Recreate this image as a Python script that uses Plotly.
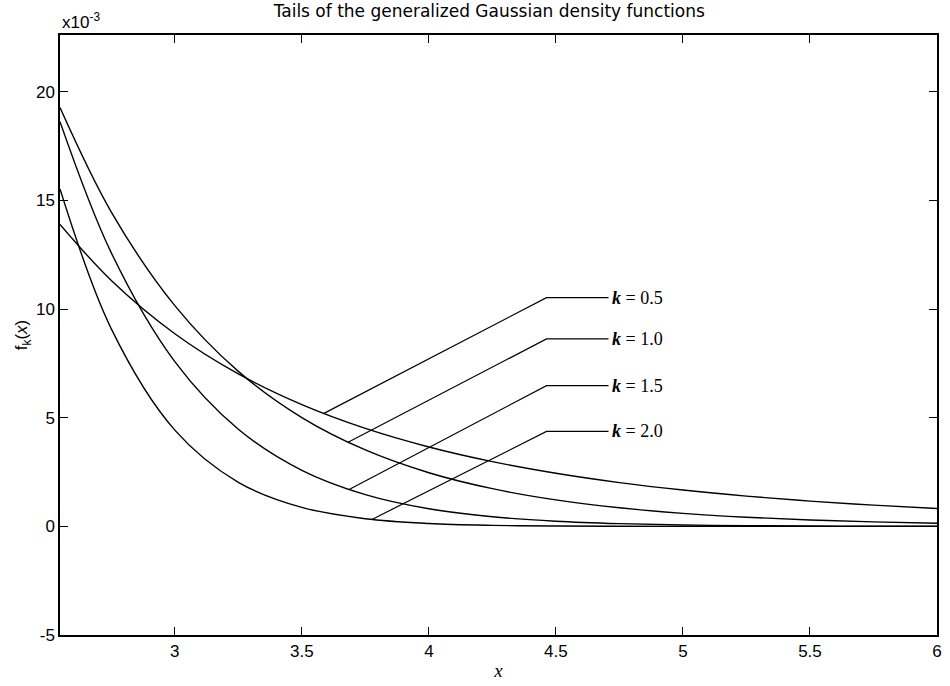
import plotly.graph_objects as go

# Sample abscissae for the density tails
x_vals = [2.548, 2.75, 3.0, 3.25, 3.5, 3.75, 4.0, 4.25, 4.5, 4.75,
          5.0, 5.25, 5.5, 5.75, 6.0]

# f_k(x) in units of 1e-3 for each shape parameter k
f_k05 = [13.90, 11.32, 8.868, 7.018, 5.603, 4.508, 3.654, 2.980, 2.445, 2.017,
         1.673, 1.393, 1.165, 0.979, 0.825]
f_k10 = [19.28, 14.47, 10.16, 7.135, 5.010, 3.518, 2.470, 1.735, 1.218, 0.855,
         0.601, 0.422, 0.296, 0.208, 0.146]
f_k15 = [18.63, 12.59, 7.584, 4.473, 2.583, 1.463, 0.812, 0.443, 0.237, 0.125,
         0.0645, 0.0328, 0.0164, 0.0081, 0.0039]
f_k20 = [15.53, 9.094, 4.432, 2.029, 0.873, 0.353, 0.134, 0.0477, 0.016, 0.005,
         0.0015, 0.0004, 0.0001, 0.0, 0.0]

series = [("k = 0.5", f_k05), ("k = 1.0", f_k10),
          ("k = 1.5", f_k15), ("k = 2.0", f_k20)]

# Callout leaders: point on the curve -> elbow -> label
label_names = ["0.5", "1.0", "1.5", "2.0"]
leader_x0 = [3.585, 3.682, 3.686, 3.776]
leader_y0 = [5.19, 3.87, 1.70, 0.32]
leader_y1 = [10.53, 8.63, 6.48, 4.37]
elbow_x = 4.463
label_x = 4.707

x_ticks = [3, 3.5, 4, 4.5, 5, 5.5, 6]
y_ticks = [-5, 0, 5, 10, 15, 20]

SANS = "Liberation Sans, Arial, sans-serif"
SERIF = "Liberation Serif, Times New Roman, serif"

fig = go.Figure()

for name, ys in series:
    fig.add_trace(go.Scatter(
        x=x_vals, y=ys, mode="lines", name=name,
        line=dict(color="black", width=1.4, shape="spline", smoothing=1.0),
        hoverinfo="skip"))

for x0, y0, y1 in zip(leader_x0, leader_y0, leader_y1):
    fig.add_trace(go.Scatter(
        x=[x0, elbow_x, label_x], y=[y0, y1, y1], mode="lines",
        line=dict(color="black", width=1.2), hoverinfo="skip"))

for name, y1 in zip(label_names, leader_y1):
    fig.add_annotation(
        x=label_x, y=y1, xref="x", yref="y", xanchor="left", yanchor="middle",
        text="<b><i>k</i></b> = " + name, showarrow=False, xshift=1,
        font=dict(family=SERIF, size=18, color="black"))

# Exponent marker above the y axis
fig.add_annotation(
    x=0, y=1, xref="paper", yref="paper", xanchor="left", yanchor="bottom",
    text="x10<sup>-3</sup>", showarrow=False, yshift=1,
    font=dict(family=SANS, size=17, color="black"))

axis_common = dict(
    showgrid=False, zeroline=False, showline=True, linecolor="black",
    linewidth=1.5, mirror="ticks", ticks="inside", ticklen=8, tickwidth=1.2,
    tickcolor="black",
    tickfont=dict(family=SANS, size=17, color="black"))

fig.update_layout(
    width=950, height=686,
    margin=dict(l=60, r=8, t=35, b=46),
    paper_bgcolor="white", plot_bgcolor="white",
    showlegend=False,
    title=dict(text="Tails of the generalized Gaussian density functions",
               x=0.515, xanchor="center", y=0.992, yanchor="top",
               font=dict(family="DejaVu Sans, Verdana, sans-serif", size=17,
                         color="black")),
    xaxis=dict(range=[2.548, 6], tickvals=x_ticks,
               ticktext=[f"{v:g}" for v in x_ticks],
               title=dict(text="<i>x</i>", standoff=4,
                          font=dict(family=SERIF, size=19, color="black")),
               **axis_common),
    yaxis=dict(range=[-5, 22.62], tickvals=y_ticks,
               ticktext=[f"{v:g}" for v in y_ticks],
               title=dict(text="f<sub>k</sub>(<i>x</i>)", standoff=4,
                          font=dict(family=SANS, size=17, color="black")),
               **axis_common),
)

fig.write_html("out.html")
